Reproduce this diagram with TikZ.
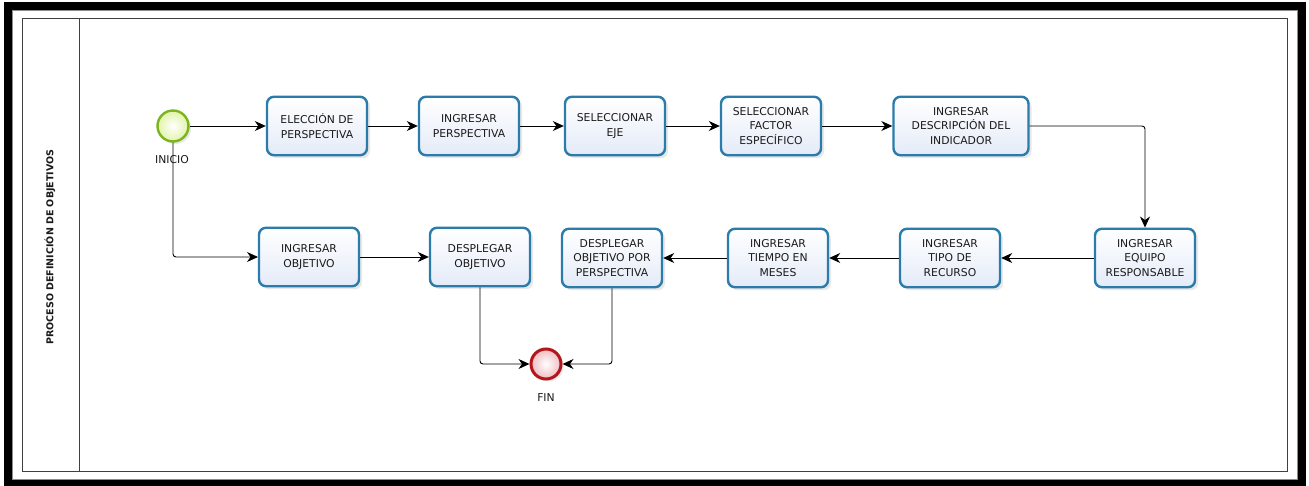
\documentclass[tikz,border=0pt]{standalone}
\usepackage{fontspec}
\setmainfont{DejaVu Sans}
\usetikzlibrary{arrows.meta,shadows}
\definecolor{boxline}{HTML}{2B7BAB}
\definecolor{boxfill}{HTML}{E4EBF8}
\definecolor{startline}{HTML}{7AB51D}
\definecolor{startfill}{HTML}{E2F4A8}
\definecolor{endline}{HTML}{B3161B}
\definecolor{endfill}{HTML}{F0BCC0}
\definecolor{txt}{HTML}{1A1A1A}
\begin{document}
\begin{tikzpicture}[x=1pt,y=-1pt,
  task/.style={draw=boxline, line width=2.4pt, rounded corners=7pt,
    top color=white, bottom color=boxfill,
    minimum width=100pt, minimum height=58.5pt, inner sep=2pt,
    align=center, font=\fontsize{10.8}{14.8}\selectfont, text=txt,
    drop shadow={shadow xshift=3pt, shadow yshift=-3pt, opacity=0.18}},
  startev/.style={circle, draw=startline, line width=2.4pt, minimum size=31pt,
    inner sep=0pt, inner color=white, outer color=startfill,
    drop shadow={shadow xshift=2.5pt, shadow yshift=-2.5pt, opacity=0.18}},
  endev/.style={circle, draw=endline, line width=3pt, minimum size=30pt,
    inner sep=0pt, inner color=white, outer color=endfill,
    drop shadow={shadow xshift=2.5pt, shadow yshift=-2.5pt, opacity=0.18}},
  evlabel/.style={font=\fontsize{10.8}{12}\selectfont, text=txt, inner sep=0pt},
  flow/.style={draw=black, line width=0.9pt, rounded corners=3pt,
    -{Stealth[length=11pt, width=10pt, inset=3.5pt]}},
  frame/.style={draw=black, line width=8pt},
  pool/.style={draw=black!75, line width=1pt}
]
\useasboundingbox (0,0) rectangle (1309,486);
% outer frame
\draw[frame] (8,6) rectangle (1302,483);
\draw[draw=black!45, line width=0.8pt] (12.5,10.5) rectangle (1297.5,479.5);
% pool and lane
\draw[pool] (22,19) rectangle (1287,471);
\draw[pool] (79,19) -- (79,471);
\node[rotate=90, font=\bfseries\fontsize{9.5}{11}\selectfont, text=txt] (lane) at (50,247) {PROCESO DEFINICIÓN DE OBJETIVOS};

% events
\node[startev] (inicio) at (173,126) {};
\node[endev] (fin) at (546,364) {};

% connector from start drawn before its label
\draw[flow] (inicio.south) |- (309-51,257) coordinate (iobjin);

\node[evlabel] (inicioL) at (172,160) {INICIO};
\node[evlabel] (finL) at (546,398) {FIN};

% tasks, top row
\node[task] (elec) at (317,126) {ELECCIÓN DE\\PERSPECTIVA};
\node[task] (ipers) at (469,126) {INGRESAR\\PERSPECTIVA};
\node[task] (eje) at (615,126) {SELECCIONAR\\EJE};
\node[task] (factor) at (771,126) {SELECCIONAR\\FACTOR\\ESPECÍFICO};
\node[task, minimum width=135pt] (desc) at (961,126) {INGRESAR\\DESCRIPCIÓN DEL\\INDICADOR};
% bottom row
\node[task] (equipo) at (1145,258) {INGRESAR\\EQUIPO\\RESPONSABLE};
\node[task] (tipo) at (950,258) {INGRESAR\\TIPO DE\\RECURSO};
\node[task] (tiempo) at (778,258) {INGRESAR\\TIEMPO EN\\MESES};
\node[task] (porpers) at (612,258) {DESPLEGAR\\OBJETIVO POR\\PERSPECTIVA};
\node[task] (dobj) at (480,257) {DESPLEGAR\\OBJETIVO};
\node[task] (iobj) at (309,257) {INGRESAR\\OBJETIVO};

% connectors
\draw[flow] (inicio) -- (elec);
\draw[flow] (elec) -- (ipers);
\draw[flow] (ipers) -- (eje);
\draw[flow] (eje) -- (factor);
\draw[flow] (factor) -- (desc);
\draw[flow] (desc.east) -| (equipo.north);
\draw[flow] (equipo) -- (tipo);
\draw[flow] (tipo) -- (tiempo);
\draw[flow] (tiempo) -- (porpers);
\draw[flow] (iobj) -- (dobj);
\draw[flow] (dobj.south) |- (fin.west);
\draw[flow] (porpers.south) |- (fin.east);
\end{tikzpicture}
\end{document}
